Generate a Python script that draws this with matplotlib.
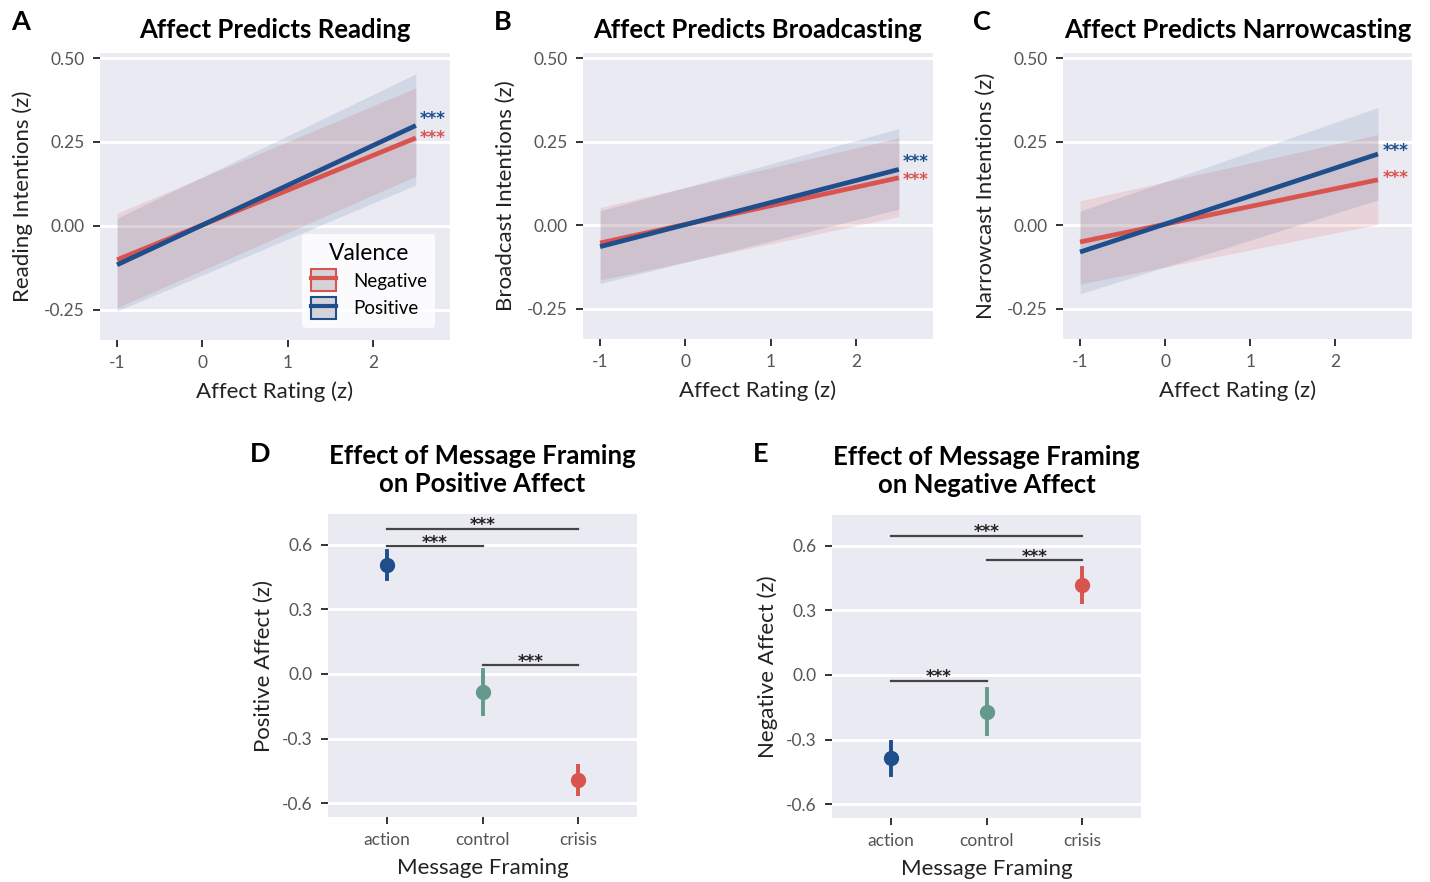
import matplotlib
matplotlib.use("Agg")
import matplotlib.pyplot as plt
from matplotlib.patches import Patch
from matplotlib.lines import Line2D

plt.rcParams['font.family'] = ['Lato', 'DejaVu Sans']
plt.rcParams['axes.unicode_minus'] = False

# colours
BLUE = '#1f4e8d'
RED = '#d9534f'
TEAL = '#649a8e'
BG = '#eaeaf2'

# ---- data: regression lines (panels A-C), values at x = -1 and x = 2.5 ----
affect_x = [-1, 2.5]

read_neg = [-0.101, 0.262]
read_neg_lo = [-0.244, 0.148]
read_neg_hi = [0.038, 0.411]
read_pos = [-0.116, 0.299]
read_pos_lo = [-0.254, 0.122]
read_pos_hi = [0.023, 0.453]

broad_neg = [-0.053, 0.142]
broad_neg_lo = [-0.164, 0.026]
broad_neg_hi = [0.053, 0.261]
broad_pos = [-0.064, 0.167]
broad_pos_lo = [-0.174, 0.048]
broad_pos_hi = [0.043, 0.289]

narrow_neg = [-0.050, 0.136]
narrow_neg_lo = [-0.176, 0.003]
narrow_neg_hi = [0.073, 0.271]
narrow_pos = [-0.080, 0.213]
narrow_pos_lo = [-0.205, 0.076]
narrow_pos_hi = [0.042, 0.352]

# ---- data: message framing (panels D-E) ----
framing = ['action', 'control', 'crisis']
pos_mean = [0.506, -0.085, -0.491]
pos_lo = [0.44, -0.184, -0.556]
pos_hi = [0.57, 0.017, -0.426]
neg_mean = [-0.388, -0.171, 0.419]
neg_lo = [-0.465, -0.274, 0.341]
neg_hi = [-0.31, -0.067, 0.496]
point_colors = [BLUE, TEAL, RED]

# significance brackets: (from, to, height)
pos_brackets = [(0, 2, 0.674), (0, 1, 0.593), (1, 2, 0.040)]
neg_brackets = [(0, 2, 0.647), (1, 2, 0.533), (0, 1, -0.029)]

W, H = 1430, 882
fig = plt.figure(figsize=(W / 100, H / 100), dpi=100)

STAR_FONT = ['DejaVu Sans']


def px_axes(left, top, right, bottom):
    return fig.add_axes([left / W, 1 - bottom / H, (right - left) / W, (bottom - top) / H])


def style(ax):
    ax.set_facecolor(BG)
    for s in ax.spines.values():
        s.set_visible(False)
    ax.grid(axis='y', color='white', lw=2.2)
    ax.set_axisbelow(True)
    ax.tick_params(length=5, width=1.4, color='#333333', labelsize=12.5,
                   labelcolor='#555555', pad=6)


def line_panel(ax, title, ylabel, neg, neg_lo, neg_hi, pos, pos_lo, pos_hi, star_y):
    style(ax)
    ax.fill_between(affect_x, neg_lo, neg_hi, color=RED, alpha=0.15, lw=0)
    ax.fill_between(affect_x, pos_lo, pos_hi, color=BLUE, alpha=0.12, lw=0)
    ax.plot(affect_x, neg, color=RED, lw=3.4, solid_capstyle='butt')
    ax.plot(affect_x, pos, color=BLUE, lw=3.4, solid_capstyle='butt')
    # significance stars next to the line ends (blue, red)
    ax.text(2.55, star_y[0], '***', color=BLUE, fontsize=12, fontweight='bold',
            va='center', family=STAR_FONT)
    ax.text(2.55, star_y[1], '***', color=RED, fontsize=12, fontweight='bold',
            va='center', family=STAR_FONT)
    ax.set_xlim(-1.2, 2.9)
    ax.set_ylim(-0.34, 0.515)
    ax.set_xticks([-1, 0, 1, 2])
    ax.set_yticks([-0.25, 0, 0.25, 0.5])
    ax.set_yticklabels(['-0.25', '0.00', '0.25', '0.50'])
    ax.set_xlabel('Affect Rating (z)', fontsize=16, color='#222222', labelpad=7)
    ax.set_ylabel(ylabel, fontsize=16, color='#222222', labelpad=8)
    ax.set_title(title, fontsize=18.5, fontweight='bold', pad=11)


def point_panel(ax, title, ylabel, mean, lo, hi, brackets):
    style(ax)
    for i in range(len(framing)):
        ax.plot([i, i], [lo[i], hi[i]], color=point_colors[i], lw=2.8)
        ax.plot(i, mean[i], 'o', color=point_colors[i], ms=10)
    for a, b, h in brackets:
        ax.plot([a, b], [h, h], color='#444444', lw=1.6)
        ax.text((a + b) / 2, h - 0.024, '***', ha='center', va='bottom', fontsize=12,
                fontweight='bold', family=STAR_FONT, color='#222222')
    ax.set_xlim(-0.61, 2.61)
    ax.set_ylim(-0.665, 0.744)
    ax.set_xticks(range(len(framing)))
    ax.set_xticklabels(framing)
    ax.set_yticks([-0.6, -0.3, 0, 0.3, 0.6])
    ax.set_yticklabels(['-0.6', '-0.3', '0.0', '0.3', '0.6'])
    ax.set_xlabel('Message Framing', fontsize=16, color='#222222', labelpad=7)
    ax.set_ylabel(ylabel, fontsize=16, color='#222222', labelpad=6)
    ax.set_title(title, fontsize=18.5, fontweight='bold', pad=16, linespacing=1.2)


axA = px_axes(100, 53, 450, 340)
axB = px_axes(583, 53, 933, 339)
axC = px_axes(1063, 53, 1412, 339)
axD = px_axes(328, 514, 637, 817)
axE = px_axes(832, 515, 1141, 818)

line_panel(axA, 'Affect Predicts Reading', 'Reading Intentions (z)',
           read_neg, read_neg_lo, read_neg_hi, read_pos, read_pos_lo, read_pos_hi,
           star_y=(0.318, 0.262))
line_panel(axB, 'Affect Predicts Broadcasting', 'Broadcast Intentions (z)',
           broad_neg, broad_neg_lo, broad_neg_hi, broad_pos, broad_pos_lo, broad_pos_hi,
           star_y=(0.190, 0.134))
line_panel(axC, 'Affect Predicts Narrowcasting', 'Narrowcast Intentions (z)',
           narrow_neg, narrow_neg_lo, narrow_neg_hi, narrow_pos, narrow_pos_lo, narrow_pos_hi,
           star_y=(0.222, 0.140))

point_panel(axD, 'Effect of Message Framing\non Positive Affect', 'Positive Affect (z)',
            pos_mean, pos_lo, pos_hi, pos_brackets)
point_panel(axE, 'Effect of Message Framing\non Negative Affect', 'Negative Affect (z)',
            neg_mean, neg_lo, neg_hi, neg_brackets)

# legend in panel A
handles = [
    (Patch(facecolor='#d3d3d9', edgecolor=RED, lw=1.5), Line2D([], [], color=RED, lw=3)),
    (Patch(facecolor='#d3d3d9', edgecolor=BLUE, lw=1.5), Line2D([], [], color=BLUE, lw=3)),
]
leg = axA.legend(handles, ['Negative', 'Positive'], title='Valence', loc='lower right',
                 bbox_to_anchor=(0.985, 0.01), fontsize=13.5, title_fontsize=16.5,
                 fancybox=True, framealpha=0.85, facecolor='white', edgecolor='none',
                 handlelength=1.35, handleheight=1.45, borderpad=0.45, labelspacing=0.3,
                 handletextpad=0.9)

# panel letters
for letter, x, y in [('A', 11, 30), ('B', 494, 30), ('C', 973, 30),
                     ('D', 250, 462), ('E', 753, 462)]:
    fig.text(x / W, 1 - y / H, letter, fontsize=19.5, fontweight='bold', va='baseline')

fig.savefig('out.png', dpi=100)
